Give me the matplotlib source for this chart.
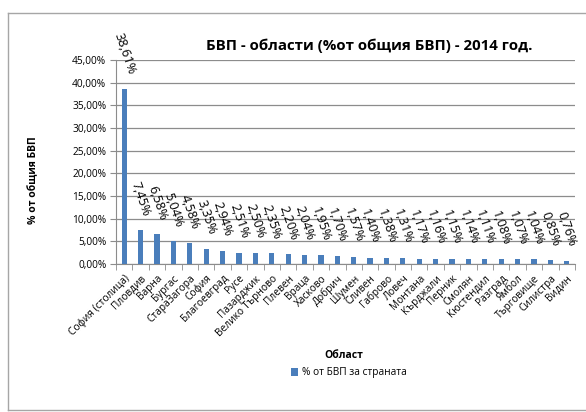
import matplotlib.pyplot as plt
import numpy as np
from matplotlib.lines import Line2D
from matplotlib.patches import Patch

plt.rcParams['font.family'] = ['Open Sans', 'DejaVu Sans']

regions = ['София (столица)', 'Пловдив', 'Варна', 'Бургас', 'СтараЗагора', 'София',
           'Благоевград', 'Русе', 'Пазарджик', 'Велико Търново', 'Плевен', 'Враца',
           'Хасково', 'Добрич', 'Шумен', 'Сливен', 'Габрово', 'Ловеч', 'Монтана',
           'Кърджали', 'Перник', 'Смолян', 'Кюстендил', 'Разград', 'Ямбол',
           'Търговище', 'Силистра', 'Видин']
gdp_share = [38.61, 7.45, 6.58, 5.04, 4.58, 3.35, 2.94, 2.51, 2.50, 2.35, 2.20, 2.04,
             1.95, 1.70, 1.57, 1.40, 1.38, 1.31, 1.17, 1.16, 1.15, 1.14, 1.11, 1.08,
             1.07, 1.04, 0.85, 0.76]
y_ticks = [0, 5, 10, 15, 20, 25, 30, 35, 40, 45]


def pct(v):
    return f'{v:.2f}%'.replace('.', ',')


def main():
    W, H = 586, 412
    fig = plt.figure(figsize=(W / 100, H / 100), dpi=100)
    bar_color = '#4A7EBB'
    grid_color = '#8C8C8C'

    ax = fig.add_axes([116 / W, 1 - 264 / H, (575 - 116) / W, (264 - 60) / H])
    x = np.arange(len(regions))
    ax.bar(x, gdp_share, width=0.32, color=bar_color, zorder=3)

    ax.set_xlim(-0.5, len(regions) - 0.5)
    ax.set_ylim(0, 45)
    ax.set_yticks(y_ticks)
    ax.set_yticklabels([pct(v) for v in y_ticks], fontsize=7.3)
    ax.set_xticks(x)
    ax.set_xticklabels(regions, rotation=45, ha='right', rotation_mode='anchor', fontsize=7.3)
    ax.set_xticks(np.arange(-0.5, len(regions)), minor=True)
    ax.tick_params(axis='x', which='major', length=0, pad=6.5)
    ax.tick_params(axis='x', which='minor', length=4, color=grid_color)
    ax.tick_params(axis='y', length=4, color=grid_color, pad=3)

    ax.grid(True, axis='y', color=grid_color, linewidth=0.9, zorder=0)
    for side in ['top', 'right']:
        ax.spines[side].set_visible(False)
    ax.spines['left'].set_color(grid_color)
    ax.spines['bottom'].set_color(grid_color)

    # data labels above bars
    for xi, v in zip(x, gdp_share):
        ax.annotate(pct(v), xy=(xi, v), xytext=(0, 9), textcoords='offset points',
                    rotation=-71, ha='center', va='bottom', fontsize=9.2)

    fig.text(369 / W, 1 - 46 / H, 'БВП - области (%от общия БВП) - 2014 год.',
             ha='center', va='center', fontsize=10.8, fontweight='bold')
    fig.text(34 / W, 1 - 180 / H, '% от общия БВП', rotation=90,
             ha='center', va='center', fontsize=7.5, fontweight='bold')
    fig.text(344 / W, 1 - 356 / H, 'Област', ha='center', va='center',
             fontsize=7.5, fontweight='bold')

    handle = Patch(facecolor=bar_color, edgecolor='none')
    fig.legend([handle], ['% от БВП за страната'], loc='center',
               bbox_to_anchor=(349 / W, 1 - 373 / H), frameon=False, fontsize=7.3,
               handlelength=0.7, handleheight=0.7, handletextpad=0.4)

    # outer chart frame
    for xs, ys in [([8, 586], [13, 13]), ([8, 8], [13, 410]), ([8, 586], [410, 410])]:
        fig.add_artist(Line2D([v / W for v in xs], [1 - v / H for v in ys],
                              color='#A6A6A6', linewidth=1.0))

    fig.savefig('out.png', dpi=100)


if __name__ == '__main__':
    main()
